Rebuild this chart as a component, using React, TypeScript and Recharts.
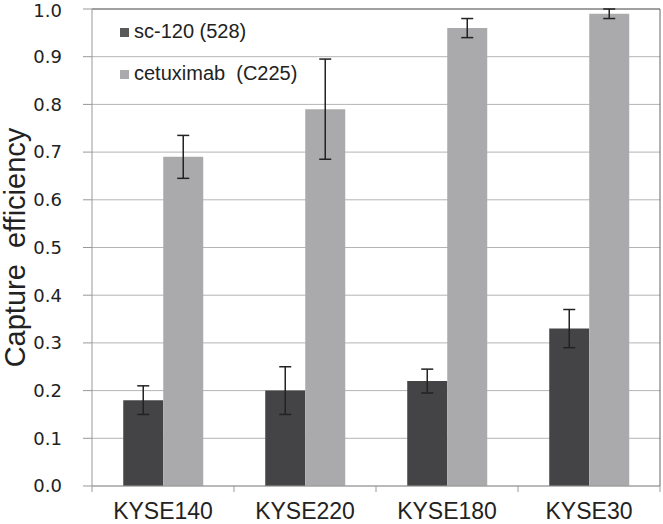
import React from "react";
import {
  BarChart,
  Bar,
  XAxis,
  YAxis,
  CartesianGrid,
  ErrorBar,
  ReferenceLine,
} from "recharts";

const categories = ["KYSE140", "KYSE220", "KYSE180", "KYSE30"];
const seriesNames = ["sc-120 (528)", "cetuximab  (C225)"];
const sc120 = [0.18, 0.2, 0.22, 0.33];
const sc120Err = [0.03, 0.05, 0.025, 0.04];
const cetuximab = [0.69, 0.79, 0.96, 0.99];
const cetuximabErr = [0.045, 0.105, 0.02, 0.01];
const yTicks = [0, 0.1, 0.2, 0.3, 0.4, 0.5, 0.6, 0.7, 0.8, 0.9, 1.0];

const DARK = "#444446";
const LIGHT = "#aaaaac";
const FONT = "'Liberation Sans', Arial, sans-serif";

const data = categories.map((name, i) => ({
  name,
  sc: sc120[i],
  scErr: sc120Err[i],
  cet: cetuximab[i],
  cetErr: cetuximabErr[i],
}));

// category ticks sit on the band edges, not the centres
const XTick = (props: any) => {
  const { x, y, payload, index } = props;
  const half = payload.offset ?? 71;
  return (
    <g>
      <line x1={x - half} x2={x - half} y1={y} y2={y + 6} stroke="#999" />
      {index === categories.length - 1 && (
        <line x1={x + half} x2={x + half} y1={y} y2={y + 6} stroke="#999" />
      )}
      <text
        x={x}
        y={y + 33}
        textAnchor="middle"
        fill="#222"
        style={{ fontFamily: FONT, fontSize: 23 }}
      >
        {payload.value}
      </text>
    </g>
  );
};

const YLabel = (props: any) => {
  const vb = props.viewBox;
  const cy = vb.y + vb.height / 2;
  return (
    <text
      x={25}
      y={cy}
      transform={`rotate(-90 25 ${cy})`}
      textAnchor="middle"
      fill="#222"
      style={{ fontFamily: FONT, fontSize: 29, whiteSpace: "pre" }}
    >
      {"Capture\u00a0 efficiency"}
    </text>
  );
};

export default function App() {
  return (
    <div style={{ position: "absolute", left: 0, top: 0, width: 663, height: 524 }}>
      <BarChart
        width={663}
        height={524}
        data={data}
        margin={{ top: 9, right: 0, left: 0, bottom: 0 }}
        barCategoryGap="22%"
        barGap={0}
      >
        <CartesianGrid vertical={false} stroke="#b4b4b4" />
        <XAxis
          dataKey="name"
          height={38}
          tickLine={false}
          tickSize={0}
          tickMargin={0}
          axisLine={{ stroke: "#999" }}
          tick={<XTick />}
          interval={0}
        />
        <YAxis
          width={92}
          domain={[0, 1]}
          ticks={yTicks}
          tickFormatter={(v: number) => v.toFixed(1)}
          tickSize={9}
          tickMargin={21}
          tickLine={{ stroke: "#999" }}
          axisLine={{ stroke: "#999" }}
          tick={{ fill: "#222", fontSize: 18, fontFamily: "'DejaVu Sans', sans-serif" }}
          label={<YLabel />}
        />
        <YAxis
          yAxisId="right"
          orientation="right"
          width={3}
          domain={[0, 1]}
          tick={false}
          tickLine={false}
          axisLine={{ stroke: "#666" }}
        />
        <ReferenceLine y={1} stroke="#666" />
        <Bar dataKey="sc" fill={DARK} isAnimationActive={false}>
          <ErrorBar dataKey="scErr" width={6} stroke="#222" strokeWidth={1.5} />
        </Bar>
        <Bar dataKey="cet" fill={LIGHT} isAnimationActive={false}>
          <ErrorBar dataKey="cetErr" width={6} stroke="#222" strokeWidth={1.5} />
        </Bar>
      </BarChart>
      <div
        style={{
          position: "absolute",
          left: 120,
          top: 20,
          fontFamily: FONT,
          fontSize: 20,
          color: "#222",
          whiteSpace: "pre",
        }}
      >
        {seriesNames.map((n, i) => (
          <div
            key={n}
            style={{ display: "flex", alignItems: "center", height: 22, marginBottom: i === 0 ? 20 : 0 }}
          >
            <span
              style={{
                display: "inline-block",
                width: 9,
                height: 9,
                background: i === 0 ? "#5a5a5c" : LIGHT,
                marginRight: 5,
                marginTop: 3,
              }}
            />
            <span>{n}</span>
          </div>
        ))}
      </div>
    </div>
  );
}
